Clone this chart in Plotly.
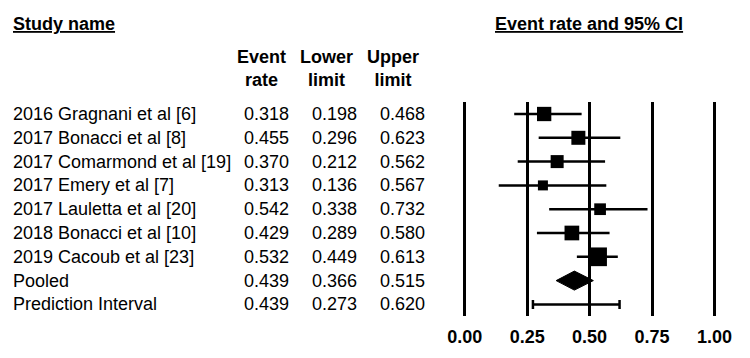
import plotly.graph_objects as go

studies = ["2016 Gragnani et al [6]", "2017 Bonacci et al [8]", "2017 Comarmond et al [19]",
           "2017 Emery et al [7]", "2017 Lauletta et al [20]", "2018 Bonacci et al [10]",
           "2019 Cacoub et al [23]"]
rates = [0.318, 0.455, 0.370, 0.313, 0.542, 0.429, 0.532]
lowers = [0.198, 0.296, 0.212, 0.136, 0.338, 0.289, 0.449]
uppers = [0.468, 0.623, 0.562, 0.567, 0.732, 0.580, 0.613]
weights = [14.3, 14.0, 13.0, 10.0, 11.7, 14.7, 18.7]  # relative box sizes

pooled = ("Pooled", 0.439, 0.366, 0.515)
pred = ("Prediction Interval", 0.439, 0.273, 0.620)

tick_vals = [0.0, 0.25, 0.5, 0.75, 1.0]
tick_text = ["0.00", "0.25", "0.50", "0.75", "1.00"]

FONT = "Liberation Sans, Arial, sans-serif"
FS = 18
W, H = 750, 358
ROW0, ROWH = 114.0, 23.8
TOP, BOT = 102.0, 316.0
X0PX, X1PX = 466.0, 719.0
XR = (-0.05, 1.05)
scale = X1PX - X0PX

def px_to_row(p):
    return (p - ROW0) / ROWH

fig = go.Figure()

n = len(studies)
rows = list(range(n))

# study CIs
fig.add_trace(go.Scatter(
    x=rates, y=rows, mode="markers",
    marker=dict(symbol="square", size=weights, color="black", opacity=1, line=dict(width=0)),
    error_x=dict(type="data", symmetric=False,
                 array=[u - r for u, r in zip(uppers, rates)],
                 arrayminus=[r - l for r, l in zip(rates, lowers)],
                 color="black", thickness=2.5, width=0),
    showlegend=False, hoverinfo="skip", cliponaxis=False))

# pooled diamond
pi_row = n
h = 0.4
_, pe, pl, pu = pooled
fig.add_trace(go.Scatter(
    x=[pl, pe, pu, pe, pl], y=[pi_row, pi_row - h, pi_row, pi_row + h, pi_row],
    mode="lines", fill="toself", fillcolor="black", line=dict(color="black", width=1),
    showlegend=False, hoverinfo="skip"))

# prediction interval
_, qe, ql, qu = pred
fig.add_trace(go.Scatter(
    x=[qe], y=[n + 1], mode="markers", marker=dict(size=0.1, color="rgba(0,0,0,0)"),
    error_x=dict(type="data", symmetric=False, array=[qu - qe], arrayminus=[qe - ql],
                 color="black", thickness=2.5, width=4.5),
    showlegend=False, hoverinfo="skip"))

# table text
def txt(x, y, text, xanchor, xref="paper", yref="y", align="left"):
    return dict(x=x, y=y, xref=xref, yref=yref, text=text, showarrow=False,
                xanchor=xanchor, yanchor="middle", align=align, borderpad=0, borderwidth=0,
                font=dict(size=FS, family=FONT, color="black"))

ann = []
all_names = studies + [pooled[0], pred[0]]
all_r = rates + [pooled[1], pred[1]]
all_l = lowers + [pooled[2], pred[2]]
all_u = uppers + [pooled[3], pred[3]]
for i, (nm, r, l, u) in enumerate(zip(all_names, all_r, all_l, all_u)):
    ann.append(txt(8 / W, i, nm, "left"))
    for xr, v in [(288, r), (357, l), (426, u)]:
        ann.append(txt(xr / W, i, f"{v:.3f}", "right"))

for xc, t in [(260, "Event<br>rate"), (326, "Lower<br>limit"), (393, "Upper<br>limit")]:
    ann.append(txt(xc / W, 1 - 68 / H, f"<b>{t}</b>", "center", yref="paper", align="center"))
ann.append(txt(8 / W, 1 - 24 / H, "<b><u>Study name</u></b>", "left", yref="paper"))
ann.append(txt(592 / W, 1 - 24 / H, "<b><u>Event rate and 95% CI</u></b>", "center", yref="paper"))

dl = X0PX + XR[0] * scale
dr = X0PX + XR[1] * scale

fig.update_layout(
    width=W, height=H, margin=dict(l=0, r=0, t=0, b=0),
    paper_bgcolor="white", plot_bgcolor="white",
    annotations=ann,
    xaxis=dict(domain=[dl / W, dr / W], range=list(XR), tickvals=tick_vals, ticktext=tick_text,
               showgrid=True, gridcolor="black", gridwidth=3, zeroline=False, showline=False,
               ticks="outside", ticklen=4, tickcolor="white",
               tickfont=dict(size=FS, family=FONT, color="black", weight="bold")),
    yaxis=dict(domain=[1 - BOT / H, 1 - TOP / H], range=[px_to_row(BOT), px_to_row(TOP)],
               showgrid=False, zeroline=False, showticklabels=False, showline=False),
)

fig.write_html("out.html")
